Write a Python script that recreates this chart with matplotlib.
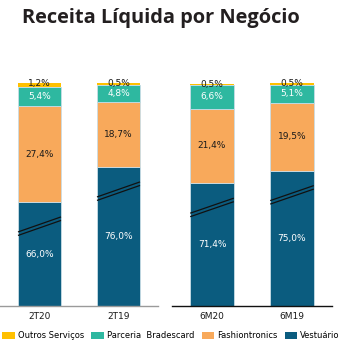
import matplotlib
matplotlib.use("Agg")
import matplotlib.pyplot as plt
from matplotlib.patches import Patch

# Net revenue mix by business (%)
periods_q = ["2T20", "2T19"]
periods_s = ["6M20", "6M19"]
outros = [1.2, 0.5, 0.5, 0.5]
bradescard = [5.4, 4.8, 6.6, 5.1]
fashion = [27.4, 18.7, 21.4, 19.5]
vestuario = [66.0, 76.0, 71.4, 75.0]
series_names = ["Outros Serviços", "Parceria  Bradescard", "Fashiontronics", "Vestuário"]

colors = ["#FFC000", "#2EB8A0", "#F8A95B", "#0B5C7F"]
AXIS_BREAK = 36.3  # part of the Vestuário bars hidden by the broken axis
W, H, DPI = 349, 353, 100

fig = plt.figure(figsize=(W / DPI, H / DPI), dpi=DPI)
fig.patch.set_facecolor("white")

def px_axes(x0, x1, ytop, ybot):
    return fig.add_axes([x0 / W, 1 - ybot / H, (x1 - x0) / W, (ybot - ytop) / H])

ax_l = px_axes(0, 158, 83, 306)
ax_r = px_axes(172, 332, 83, 306)

def fmt(v):
    return f"{v:.1f}%".replace(".", ",")

def draw(ax, labels, idx, axis_color):
    xs = list(range(len(labels)))
    width = 0.545
    v = [vestuario[i] for i in idx]
    f = [fashion[i] for i in idx]
    b = [bradescard[i] for i in idx]
    o = [outros[i] for i in idx]
    v_disp = [val - AXIS_BREAK for val in v]
    bottom_f = v_disp
    bottom_b = [a + c for a, c in zip(bottom_f, f)]
    bottom_o = [a + c for a, c in zip(bottom_b, b)]
    edge = dict(edgecolor="#c9dde6", linewidth=0.6)
    ax.bar(xs, v_disp, width, color=colors[3], **edge)
    ax.bar(xs, f, width, bottom=bottom_f, color=colors[2], **edge)
    ax.bar(xs, b, width, bottom=bottom_b, color=colors[1], **edge)
    ax.bar(xs, o, width, bottom=bottom_o, color=colors[0], linewidth=0)
    fs = 6.5
    for k, x in enumerate(xs):
        ax.text(x, v_disp[k] / 2, fmt(v[k]), ha="center", va="center",
                color="white", fontsize=fs)
        ax.text(x, bottom_f[k] + f[k] / 2, fmt(f[k]), ha="center", va="center",
                color="#1a1a1a", fontsize=fs)
        ax.text(x, bottom_b[k] + b[k] / 2, fmt(b[k]), ha="center", va="center",
                color="white", fontsize=fs)
        ax.text(x, bottom_o[k] + o[k] - 0.2, fmt(o[k]), ha="center", va="center",
                color="#1a1a1a", fontsize=fs)
        # broken-axis marks across the Vestuário bar
        yc = v_disp[k] - 6.9
        for dy in (0.5, -0.5):
            ax.plot([x - width / 2, x + width / 2],
                    [yc - 2.15 + dy, yc + 2.15 + dy],
                    color="#111111", lw=0.9, solid_capstyle="butt", zorder=5)
    ax.set_xlim(-0.5, len(labels) - 0.5)
    top = max(a + c for a, c in zip(bottom_o, o))
    ax.set_ylim(0, max(top, 100 - AXIS_BREAK))
    ax.set_xticks(xs)
    ax.set_xticklabels(labels, fontsize=6.5, color="#1a1a1a")
    ax.tick_params(axis="x", length=0, pad=4)
    ax.set_yticks([])
    for s in ("top", "right", "left"):
        ax.spines[s].set_visible(False)
    ax.spines["bottom"].set_color(axis_color)
    ax.spines["bottom"].set_linewidth(1.0)
    ax.set_facecolor("none")

draw(ax_l, periods_q, [0, 1], "#9a9a9a")
draw(ax_r, periods_s, [2, 3], "#111111")

title = fig.text(22 / W, 1 - 18 / H, "Receita Líquida por Negócio", fontsize=14,
                 fontweight="bold", color="#231f20", ha="left", va="center",
                 family="Open Sans")
# fit the title to its intended width
renderer = fig.canvas.get_renderer()
tw = title.get_window_extent(renderer).width
title.set_fontsize(14 * 280 / tw)

handles = [Patch(facecolor=c, edgecolor="none") for c in colors]
fig.legend(handles, series_names, loc="center", bbox_to_anchor=(171 / W, 1 - 336 / H),
           ncol=4, frameon=False, fontsize=6, handlelength=1.5, handleheight=1.0,
           handletextpad=0.35, columnspacing=0.9, borderpad=0)

fig.savefig("out.png", dpi=DPI)
